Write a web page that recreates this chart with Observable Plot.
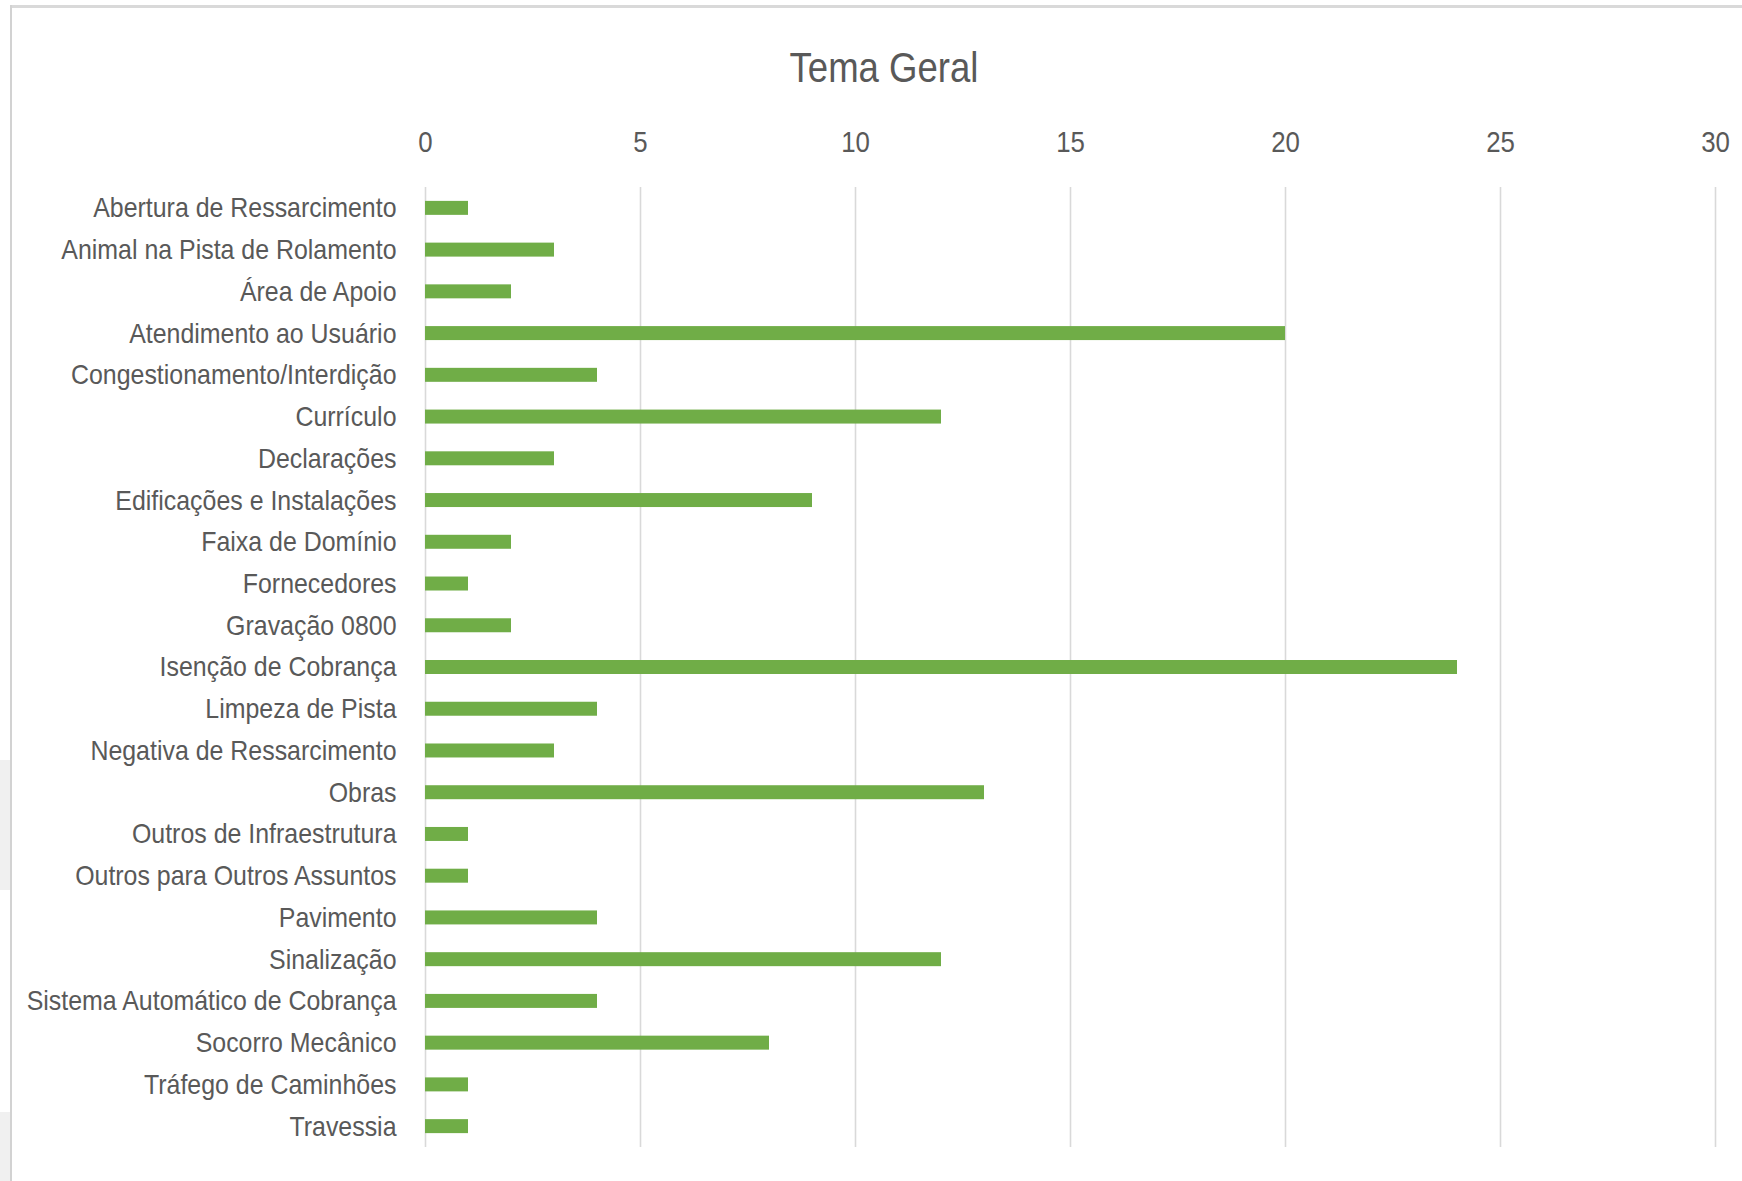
<!DOCTYPE html>
<html>
<head>
<meta charset="utf-8">
<script src="https://cdn.jsdelivr.net/npm/d3@7"></script>
<script src="https://cdn.jsdelivr.net/npm/@observablehq/plot@0.6"></script>
<style>
  html, body { margin: 0; padding: 0; background: #ffffff; }
  #page { position: relative; width: 1742px; height: 1181px; overflow: hidden; background: #fff;
          font-family: "Liberation Sans", Arial, sans-serif; }
  #topline { position: absolute; left: 10px; top: 5px; width: 1732px; height: 3px; background: #d9d9d9; }
  #leftline { position: absolute; left: 10px; top: 5px; width: 2px; height: 1176px; background: #d2d2d2; }
  .shadow { position: absolute; left: 0; width: 10px; background: #f0f0f0; }
  #title { position: absolute; left: 884px; top: 47px; transform: translateX(-50%) scaleX(0.87);
           transform-origin: center center;
           font-size: 42px; line-height: 42px; color: #595959; white-space: nowrap; }
  #chart { position: absolute; left: 0; top: 0; }
</style>
</head>
<body>
<div id="page">
  <div id="chart"></div>
  <div id="topline"></div>
  <div id="leftline"></div>
  <div class="shadow" style="top:760px;height:130px"></div>
  <div class="shadow" style="top:1112px;height:69px"></div>
  <div id="title"></div>
</div>
<script>
const title = "Tema Geral";
const categories = [
  "Abertura de Ressarcimento",
  "Animal na Pista de Rolamento",
  "Área de Apoio",
  "Atendimento ao Usuário",
  "Congestionamento/Interdição",
  "Currículo",
  "Declarações",
  "Edificações e Instalações",
  "Faixa de Domínio",
  "Fornecedores",
  "Gravação 0800",
  "Isenção de Cobrança",
  "Limpeza de Pista",
  "Negativa de Ressarcimento",
  "Obras",
  "Outros de Infraestrutura",
  "Outros para Outros Assuntos",
  "Pavimento",
  "Sinalização",
  "Sistema Automático de Cobrança",
  "Socorro Mecânico",
  "Tráfego de Caminhões",
  "Travessia"
];
const values = [1, 3, 2, 20, 4, 12, 3, 9, 2, 1, 2, 24, 4, 3, 13, 1, 1, 4, 12, 4, 8, 1, 1];
const xTicks = [0, 5, 10, 15, 20, 25, 30];

const data = categories.map((c, i) => ({tema: c, n: values[i]}));

document.getElementById("title").textContent = title;

const chart = Plot.plot({
  width: 1742,
  height: 1181,
  marginTop: 187,
  marginBottom: 34,
  marginLeft: 425,
  marginRight: 27,
  style: {
    fontFamily: '"Liberation Sans", Arial, sans-serif',
    color: "#595959",
    background: "transparent",
    overflow: "visible"
  },
  x: {domain: [0, 30], axis: null},
  y: {domain: categories, paddingInner: 0.665, paddingOuter: 0.3325, round: false, axis: null},
  marks: [
    Plot.ruleX(xTicks, {stroke: "#d9d9d9", strokeWidth: 1.6}),
    Plot.barX(data, {x: "n", y: "tema", fill: "#70ad47"}),
    Plot.axisX({anchor: "top", ticks: xTicks, tickSize: 0, tickPadding: 36, fontSize: 30, label: null,
                tickFormat: d => String(d), fill: "#595959"}),
    Plot.axisY({anchor: "left", tickSize: 0, tickPadding: 29, fontSize: 28, label: null, fill: "#595959"})
  ]
});
document.getElementById("chart").appendChild(chart);

// Condense the glyphs horizontally to match the narrow lettering of the original
const tickStrings = new Set(xTicks.map(String));
const catStrings = new Set(categories);
chart.querySelectorAll("text").forEach(t => {
  const s = t.textContent;
  let factor = null;
  if (catStrings.has(s)) factor = 0.89;
  else if (tickStrings.has(s)) factor = 0.86;
  if (factor) {
    const w = t.getComputedTextLength();
    if (w > 0) {
      t.setAttribute("textLength", (w * factor).toFixed(2));
      t.setAttribute("lengthAdjust", "spacingAndGlyphs");
    }
  }
});
</script>
</body>
</html>
